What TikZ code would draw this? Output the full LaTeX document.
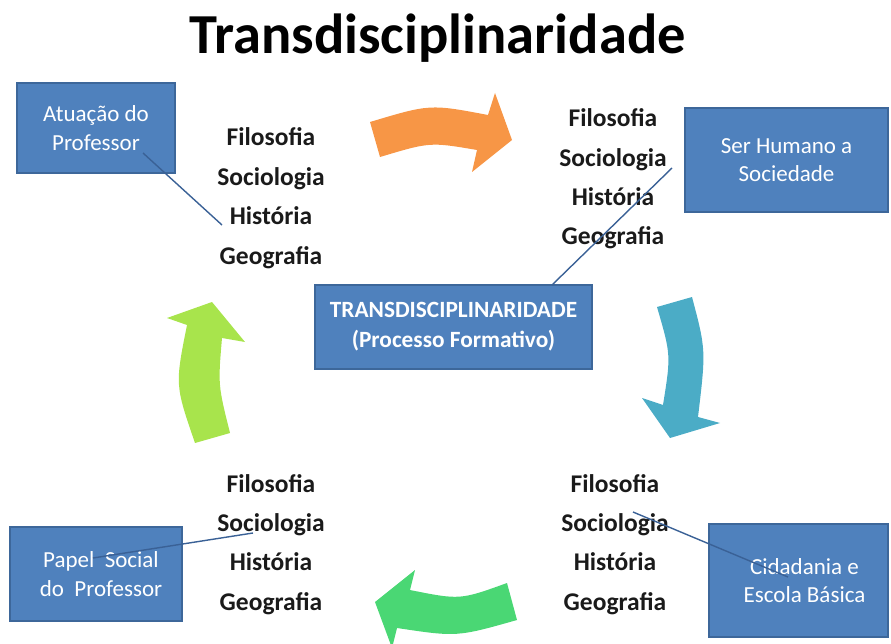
\documentclass[tikz,border=0pt]{standalone}
\usepackage{fontspec}
\setmainfont{Carlito}
\definecolor{boxblue}{HTML}{4F81BD}
\definecolor{boxedge}{HTML}{3D679A}
\definecolor{linkblue}{HTML}{3A6196}
\definecolor{arrorange}{HTML}{F79646}
\definecolor{arrteal}{HTML}{4BACC6}
\definecolor{arrlime}{HTML}{A8E44C}
\definecolor{arrgreen}{HTML}{4AD774}
\definecolor{txt}{HTML}{1A1A1A}
\begin{document}
\begin{tikzpicture}[x=1pt,y=-1pt,
  bluebox/.style={draw=boxedge,line width=1.2pt,fill=boxblue,text=white,
    inner sep=0pt,align=center,font=\fontsize{23}{28.5}\selectfont},
  word/.style={anchor=base,inner sep=0pt,text=txt,font=\bfseries\fontsize{25.5}{30}\selectfont},
  link/.style={draw=linkblue,line width=1.4pt}]
\useasboundingbox (0,0) rectangle (891,644);
% title
\node[anchor=base,inner sep=0pt,text=black,font=\bfseries\fontsize{56.5}{60}\selectfont] (title) at (437.5,54) {Transdisciplinaridade};
% curved arrows
\fill[arrorange] (370,122) .. controls (430,104) .. (488,115) -- (495,93) -- (512,140) -- (472,172) -- (477,150) .. controls (430,142) .. (380,157) -- cycle;
\fill[arrteal] (657,307) -- (692,297) .. controls (706,350) .. (698,417) -- (720,423) -- (670,438) -- (642,398) -- (663,405) .. controls (671,355) .. (657,307) -- cycle;
\fill[arrgreen] (507,583) -- (517,620) .. controls (457,637) .. (397,628) -- (392,648) -- (375,602) -- (415,570) -- (410,590) .. controls (460,600) .. (507,583) -- cycle;
\fill[arrlime] (195,443) -- (230,433) .. controls (218,385) .. (222,338) -- (245,342) -- (212,302) -- (167,318) -- (187,325) .. controls (175,385) .. (195,443) -- cycle;
% boxes
\node[bluebox,minimum width=158pt,minimum height=90pt] (atua) at (96,128) {Atuação do\\Professor};
\node[bluebox,minimum width=203pt,minimum height=104pt] (ser) at (786.5,160) {Ser Humano a\\Sociedade};
\node[bluebox,font=\bfseries\fontsize{23.3}{30}\selectfont,minimum width=277pt,minimum height=84pt] (centre) at (453.5,327) {TRANSDISCIPLINARIDADE\\(Processo Formativo)};
\node[bluebox,minimum width=172pt,minimum height=94pt] (papel) at (96,574) {\hspace{10pt}Papel\ \ Social\\\hspace{10pt}do\ \ Professor};
\node[bluebox,minimum width=179pt,minimum height=113pt] (cida) at (798.5,580.5) {\hspace{12pt}Cidadania e\\\hspace{12pt}Escola Básica};
% word lists
\node[word] (tlF) at (271,146) {Filosofia};
\node[word] (tlS) at (271,185.5) {Sociologia};
\node[word] (tlH) at (271,225) {História};
\node[word] (tlG) at (271,265) {Geografia};
\node[word] (trF) at (613,127) {Filosofia};
\node[word] (trS) at (613,166.3) {Sociologia};
\node[word] (trH) at (613,205.6) {História};
\node[word] (trG) at (613,245) {Geografia};
\node[word] (blF) at (271,492) {Filosofia};
\node[word] (blS) at (271,531.3) {Sociologia};
\node[word] (blH) at (271,570.6) {História};
\node[word] (blG) at (271,610) {Geografia};
\node[word] (brF) at (615,492) {Filosofia};
\node[word] (brS) at (615,531.3) {Sociologia};
\node[word] (brH) at (615,570.6) {História};
\node[word] (brG) at (615,610) {Geografia};
% connector ends
\coordinate (l1a) at (143,153);
\coordinate (l1b) at (222,225);
\coordinate (l2a) at (672,168);
\coordinate (l2b) at (552,285);
\coordinate (l3a) at (93,558);
\coordinate (l3b) at (253,533);
\coordinate (l4a) at (633,512);
\coordinate (l4b) at (788,577);
\draw[link] (l1a) -- (l1b);
\draw[link] (l2a) -- (l2b);
\draw[link] (l3a) -- (l3b);
\draw[link] (l4a) -- (l4b);
\end{tikzpicture}
\end{document}
